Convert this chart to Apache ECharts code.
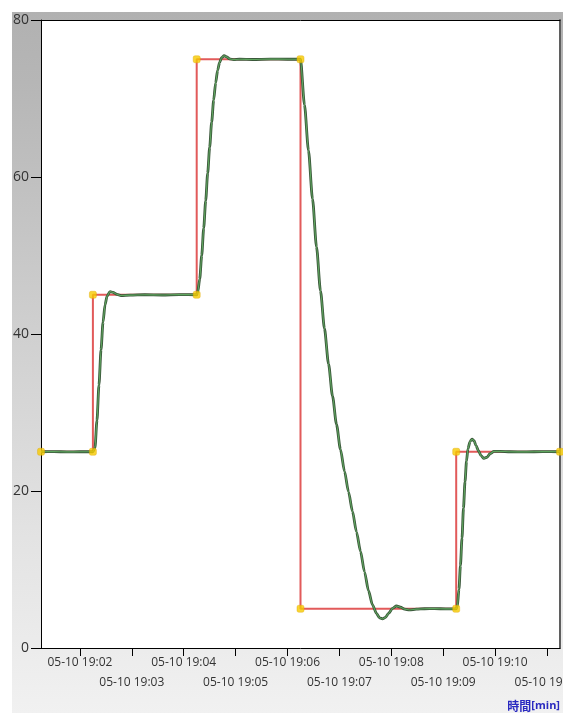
<!DOCTYPE html>
<html>
<head>
<meta charset="utf-8">
<script src="https://cdn.jsdelivr.net/npm/echarts@6/dist/echarts.min.js"></script>
<style>
  html, body { margin: 0; padding: 0; background: #fff; }
  #wrap { position: relative; width: 563px; height: 713px; background: #fff; overflow: hidden; }
  #panel { position: absolute; left: 12px; top: 12px; right: 0; bottom: 0;
    background: linear-gradient(to bottom, #b1b1b1 0%, #b6b6b6 10%, #cfcfcf 45%, #e3e3e3 75%, #f1f1f1 100%); }
  #chart { position: absolute; left: 0; top: 0; width: 563px; height: 713px; }
</style>
</head>
<body>
<div id="wrap"><div id="panel"></div><div id="chart"></div></div>
<script>
// Run start and minute tick labels
const startTime = '2024-05-10 19:01:15';
const runSeconds = 600;
const tickLabels = ['05-10 19:02', '05-10 19:03', '05-10 19:04', '05-10 19:05', '05-10 19:06',
                    '05-10 19:07', '05-10 19:08', '05-10 19:09', '05-10 19:10', '05-10 19:11'];
const yTicks = [0, 20, 40, 60, 80];

// Setpoint program (seconds from start, value)
const spSec = [0, 60, 60, 180, 180, 300, 300, 480, 480, 600];
const spVal = [25, 25, 45, 45, 75, 75, 5, 5, 25, 25];

// Measured process value (seconds from start, value)
const pvSec = [0, 15, 30, 45, 60, 62.4, 64.7, 67, 69.4, 71.7, 74, 76.3, 79.8, 83.2, 87.9, 92.5, 103, 120, 140, 160, 180,
  181.1, 183.5, 185.8, 188.1, 190.4, 192.7, 195, 197.3, 199.6, 201.9, 204.2, 206.5, 208.8, 211.7, 214.6, 218, 222.6, 229.5, 245, 265, 285, 300,
  304.6, 309.2, 313.9, 318.5, 323.1, 327.7, 332.4, 337, 341.6, 346.2, 350.9, 355.5, 360.1, 364.7, 369.4, 374, 378.6, 383.2, 387.9, 391.3, 394.8,
  398.3, 401.7, 406.4, 411, 415.6, 420.3, 426, 434.1, 443.4, 455, 468, 480,
  481.2, 483.2, 484.9, 486.7, 488.4, 490.2, 491.9, 493.6, 496, 498.3, 500.6, 502.9, 505.8, 508.7, 512.1, 515.6, 519.1, 523.7, 530.6, 542.2, 560, 580, 600];
const pvVal = [25, 25.02, 24.98, 25, 25, 25.5, 29, 33.5, 38, 41.5, 43.7, 44.8, 45.4, 45.3, 45.05, 44.9, 44.95, 45, 44.97, 45.02, 45,
  45.3, 47, 50, 53.5, 57, 60.5, 63.8, 67, 69.8, 72, 73.6, 74.6, 75.2, 75.45, 75.3, 75.05, 74.95, 75, 74.97, 75.02, 75, 75,
  69.2, 63.4, 57.2, 51.1, 45.5, 40.7, 36.2, 32.1, 28.5, 25.3, 22.5, 19.9, 17.4, 14.8, 12.3, 9.7, 7.3, 5.5, 4.4, 3.85, 3.7,
  3.9, 4.4, 5.05, 5.35, 5.2, 4.95, 4.85, 4.95, 5.0, 5.02, 4.98, 5,
  5.2, 7.5, 10.5, 14, 17.8, 21.2, 23.8, 25.4, 26.3, 26.6, 26.4, 25.8, 25.1, 24.5, 24.15, 24.3, 24.75, 25.05, 25.05, 25, 24.98, 25.02, 25];

function parseStamp(s) {
  const m = s.match(/(\d+)-(\d+)-(\d+) (\d+):(\d+):(\d+)/);
  return new Date(+m[1], +m[2] - 1, +m[3], +m[4], +m[5], +m[6]).getTime();
}
const t0 = parseStamp(startTime);
const year = new Date(t0).getFullYear();
function tickStamp(label) {
  const m = label.match(/(\d+)-(\d+) (\d+):(\d+)/);
  return new Date(year, +m[1] - 1, +m[2], +m[3], +m[4], 0).getTime();
}
const tickValues = tickLabels.map(tickStamp);
// Labels alternate between two rows: even minutes on the first row, odd minutes below
const rowA = tickValues.filter((v, i) => i % 2 === 0);
const rowB = tickValues.filter((v, i) => i % 2 === 1);
const labelOf = v => tickLabels[tickValues.indexOf(v)] || '';
const toTime = s => t0 + s * 1000;

const spData = spSec.map((s, i) => [toTime(s), spVal[i]]);
const pvData = pvSec.map((s, i) => [toTime(s), pvVal[i]]);

const FONT = "'Open Sans', 'Liberation Sans', sans-serif";
const chart = echarts.init(document.getElementById('chart'), null, { renderer: 'canvas' });

function timeAxis(values, showLine, labelMargin) {
  return {
    type: 'value', position: 'bottom',
    min: t0, max: toTime(runSeconds),
    splitLine: { show: false },
    axisLine: { show: showLine, lineStyle: { color: '#000', width: 1 } },
    axisTick: { show: true, length: 8, lineStyle: { color: '#000' }, customValues: values },
    axisLabel: {
      customValues: values,
      hideOverlap: false,
      showMinLabel: true, showMaxLabel: true,
      margin: labelMargin,
      fontFamily: FONT, fontSize: 12, color: '#333',
      formatter: labelOf
    }
  };
}

chart.setOption({
  backgroundColor: 'transparent',
  animation: false,
  title: {
    text: '{a|時間}{b|[min]}',
    right: 3, bottom: 1, padding: 0,
    textStyle: {
      rich: {
        a: { fontFamily: "'Noto Sans CJK JP', sans-serif", fontSize: 12, fontWeight: 'bold', color: '#2a2ac0' },
        b: { fontFamily: FONT, fontSize: 11, color: '#2a2ac0' }
      }
    }
  },
  grid: {
    left: 41, right: 3, top: 20, bottom: 65,
    containLabel: false, outerBoundsMode: 'none',
    show: true, backgroundColor: '#ffffff', borderWidth: 0
  },
  xAxis: [
    timeAxis(rowA, true, 9),
    timeAxis(rowB, false, 29),
    {
      type: 'value', position: 'top', min: 0, max: 1,
      axisLine: { show: true, lineStyle: { color: '#000', width: 1 } },
      axisTick: { show: false }, axisLabel: { show: false }, splitLine: { show: false }
    }
  ],
  yAxis: [{
    type: 'value', min: yTicks[0], max: yTicks[yTicks.length - 1], interval: yTicks[1] - yTicks[0],
    splitLine: { show: false },
    axisLine: { show: true, lineStyle: { color: '#000', width: 1 } },
    axisTick: { show: true, length: 10, lineStyle: { color: '#000' } },
    axisLabel: { margin: 12, fontFamily: FONT, fontSize: 14, color: '#333', showMinLabel: true, showMaxLabel: true }
  }, {
    type: 'value', position: 'right', min: 0, max: 1,
    axisLine: { show: true, lineStyle: { color: '#5f5f5f', width: 2 } },
    axisTick: { show: false }, axisLabel: { show: false }, splitLine: { show: false }
  }],
  series: [
    {
      name: 'SP', type: 'line', data: spData, showSymbol: false, z: 2,
      lineStyle: { color: '#e25a5a', width: 2 }
    },
    {
      name: 'PV edge', type: 'line', data: pvData, showSymbol: false, z: 3,
      smooth: 0.25, smoothMonotone: 'x',
      lineStyle: { color: '#3a573a', width: 2.8 }
    },
    {
      name: 'PV', type: 'line', data: pvData, showSymbol: false, z: 4,
      smooth: 0.25, smoothMonotone: 'x',
      lineStyle: { color: '#5fa65f', width: 1.1 }
    },
    {
      name: 'SP points', type: 'scatter', data: spData, z: 5, clip: false,
      symbol: 'roundRect', symbolSize: 7,
      itemStyle: { color: '#f6cb00', borderColor: '#e0a800', borderWidth: 0.5 }
    }
  ]
});
</script>
</body>
</html>
